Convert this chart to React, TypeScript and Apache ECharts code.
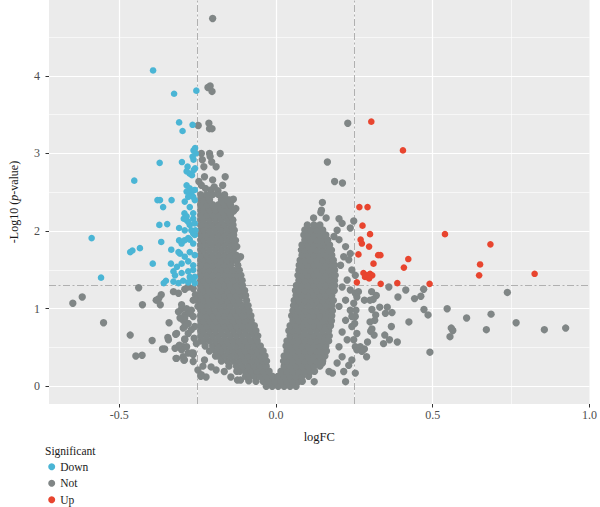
import { useEffect, useRef } from "react";
import * as echarts from "echarts";

// ---------- data (logFC, -log10 p) ----------
const downPoints: number[][] = [
  [-0.392, 4.07], [-0.325, 3.77], [-0.254, 3.81], [-0.309, 3.4], [-0.298, 3.29], [-0.266, 3.37],
  [-0.263, 3.04], [-0.258, 3.07], [-0.256, 3.0], [-0.266, 2.96], [-0.263, 2.92],
  [-0.371, 2.88], [-0.3, 2.89], [-0.282, 2.83],
  [-0.285, 2.77], [-0.275, 2.74], [-0.262, 2.79], [-0.268, 2.72], [-0.258, 2.81],
  [-0.452, 2.65],
  [-0.285, 2.59], [-0.275, 2.55], [-0.285, 2.51], [-0.27, 2.49], [-0.259, 2.53], [-0.28, 2.44],
  [-0.264, 2.44], [-0.259, 2.4], [-0.291, 2.38], [-0.275, 2.31],
  [-0.378, 2.4], [-0.37, 2.4], [-0.333, 2.4], [-0.36, 2.31],
  [-0.292, 2.23], [-0.264, 2.23], [-0.285, 2.19],
  [-0.294, 2.16], [-0.285, 2.14], [-0.264, 2.16], [-0.275, 2.08], [-0.259, 2.1], [-0.291, 2.01],
  [-0.27, 2.01], [-0.259, 1.95], [-0.275, 1.89], [-0.264, 1.84],
  [-0.372, 2.08], [-0.347, 2.09], [-0.309, 2.04], [-0.28, 2.12],
  [-0.588, 1.91], [-0.458, 1.75], [-0.465, 1.73], [-0.434, 1.78], [-0.366, 1.86], [-0.334, 1.76],
  [-0.309, 1.88], [-0.301, 1.84], [-0.292, 1.88], [-0.28, 1.91], [-0.264, 1.97], [-0.257, 2.01],
  [-0.306, 1.71], [-0.291, 1.67], [-0.275, 1.73], [-0.259, 1.69], [-0.311, 1.73],
  [-0.393, 1.58], [-0.335, 1.58], [-0.316, 1.54], [-0.301, 1.58], [-0.28, 1.61], [-0.264, 1.56],
  [-0.327, 1.48], [-0.322, 1.43], [-0.301, 1.46], [-0.28, 1.48], [-0.264, 1.5], [-0.275, 1.41], [-0.259, 1.41],
  [-0.558, 1.4], [-0.351, 1.36], [-0.358, 1.33], [-0.327, 1.35], [-0.311, 1.33], [-0.296, 1.36],
  [-0.28, 1.34], [-0.264, 1.37], [-0.259, 1.33],
];

const upPoints: number[][] = [
  [0.304, 3.41], [0.405, 3.04], [0.266, 2.31], [0.292, 2.31], [0.276, 2.07], [0.3, 1.96],
  [0.539, 1.96], [0.684, 1.83], [0.27, 1.89], [0.274, 1.84], [0.297, 1.8], [0.263, 1.7],
  [0.326, 1.69], [0.333, 1.69], [0.422, 1.64], [0.408, 1.53], [0.311, 1.58], [0.651, 1.57],
  [0.648, 1.43], [0.825, 1.45], [0.279, 1.46], [0.289, 1.43], [0.3, 1.45], [0.307, 1.43],
  [0.284, 1.41], [0.297, 1.39], [0.258, 1.34], [0.334, 1.32], [0.387, 1.33], [0.49, 1.32],
];

// scattered non-significant genes
const notScatter: number[][] = [
  [-0.202, 4.74], [-0.217, 3.85], [-0.21, 3.87], [-0.204, 3.8],
  [-0.248, 3.36], [-0.214, 3.39], [-0.212, 3.32], [-0.204, 3.32],
  [-0.238, 3.0], [-0.212, 3.0], [-0.178, 3.0],
  [-0.235, 2.92], [-0.21, 2.96], [-0.205, 2.89], [-0.191, 2.83], [-0.23, 2.83],
  [-0.228, 2.7], [-0.202, 2.66], [-0.162, 2.7],
  [-0.246, 2.64], [-0.238, 2.59],
  [-0.207, 2.53], [-0.17, 2.59], [-0.197, 2.57], [-0.225, 2.55], [-0.185, 2.52],
  [-0.136, 2.41], [-0.128, 2.29], [-0.151, 2.29],
  [-0.138, 2.14], [-0.133, 2.01], [-0.129, 1.88], [-0.125, 1.8],
  [-0.147, 2.4], [-0.135, 2.26], [-0.113, 1.67],
  [0.229, 3.39], [0.164, 2.89], [0.187, 2.64], [0.212, 2.62], [0.148, 2.37], [0.145, 2.27],
  [0.143, 2.24], [0.248, 2.13], [0.237, 2.04], [0.201, 2.16], [0.211, 2.1], [0.195, 2.01],
  [0.16, 2.17], [0.12, 2.17],
  [0.185, 1.93], [0.201, 1.89], [0.222, 1.8], [0.237, 1.71], [0.216, 1.67], [0.232, 1.63],
  [0.206, 1.56], [0.242, 1.5], [0.253, 1.43], [0.227, 1.37], [0.211, 1.28], [0.237, 1.24],
  [0.253, 1.2], [0.222, 1.11], [0.201, 1.03], [0.237, 0.98], [0.253, 0.9], [0.222, 0.85],
  [0.242, 0.77], [0.211, 0.7], [0.258, 0.68], [0.227, 0.6], [0.201, 0.51], [0.253, 0.51],
  [0.211, 0.38], [0.242, 0.34], [0.195, 0.3], [0.216, 0.19], [0.18, 0.17], [0.248, 0.6],
  [0.258, 0.47], [0.253, 0.17], [0.222, 0.06], [0.148, 0.3], [0.232, 0.27], [0.169, 0.19],
  [0.122, 0.06],
  [0.738, 1.21], [0.546, 1.0], [0.686, 0.93], [0.608, 0.88], [0.766, 0.82], [0.856, 0.73],
  [0.924, 0.75], [0.671, 0.73], [0.559, 0.75], [0.564, 0.72], [0.555, 0.64], [0.491, 0.44],
  [0.472, 0.99], [0.485, 0.92], [0.471, 1.25], [0.462, 1.16], [0.442, 1.13], [0.414, 1.24],
  [0.389, 1.15], [0.424, 0.83], [0.36, 1.28], [0.355, 1.02], [0.37, 0.95], [0.349, 0.94],
  [0.331, 1.02], [0.318, 0.92], [0.32, 1.17], [0.368, 0.77], [0.347, 0.66], [0.362, 0.6],
  [0.343, 0.55], [0.387, 0.57], [0.305, 1.22], [0.31, 1.12], [0.3, 1.11], [0.282, 1.11],
  [0.306, 0.99], [0.315, 0.85], [0.3, 0.83], [0.306, 0.74], [0.302, 0.71], [0.313, 0.66],
  [0.292, 0.57], [0.282, 0.48], [0.289, 0.38], [0.269, 0.51], [0.274, 0.45], [0.263, 1.22],
  [0.258, 1.15], [0.248, 1.07], [0.255, 0.98], [0.242, 0.9], [0.251, 0.81],
  [-0.648, 1.07], [-0.618, 1.15], [-0.55, 0.82], [-0.465, 0.66], [-0.447, 0.39], [-0.427, 0.4],
  [-0.438, 1.27], [-0.426, 1.05], [-0.395, 0.59], [-0.382, 1.11], [-0.374, 1.13], [-0.366, 1.18],
  [-0.369, 1.05], [-0.341, 0.82], [-0.345, 0.63], [-0.343, 0.6], [-0.32, 0.67], [-0.362, 0.48],
  [-0.355, 0.48], [-0.327, 1.22], [-0.311, 1.2], [-0.291, 1.25], [-0.28, 1.28],
  [-0.301, 1.0], [-0.311, 0.96], [-0.291, 0.92], [-0.296, 0.85], [-0.27, 0.98], [-0.264, 1.11],
  [-0.291, 0.61], [-0.311, 0.51], [-0.296, 0.51], [-0.301, 0.47], [-0.322, 0.49],
  [-0.319, 0.36], [-0.296, 0.38], [-0.294, 0.34], [-0.264, 0.41],
  [-0.285, 1.0], [-0.275, 0.94], [-0.291, 0.88], [-0.28, 0.81], [-0.264, 0.9], [-0.259, 0.77],
  [-0.27, 0.73], [-0.296, 0.75], [-0.28, 0.68], [-0.261, 0.62], [-0.254, 0.55], [-0.308, 0.53],
  [-0.28, 0.43], [-0.264, 0.43], [-0.317, 0.36], [-0.292, 0.34], [-0.264, 1.26], [-0.257, 1.18],
  [-0.254, 1.11], [-0.249, 1.03],
  [-0.301, 1.05], [-0.306, 0.88], [-0.291, 0.77], [-0.317, 0.68], [-0.291, 0.6], [-0.285, 0.51],
  [-0.27, 0.43], [-0.264, 0.32], [-0.249, 0.21], [-0.228, 0.34], [-0.223, 0.12], [-0.191, 0.21],
  [-0.165, 0.19], [-0.207, 0.25], [-0.144, 0.12], [-0.123, 0.08], [-0.238, 0.15], [-0.233, 0.26],
  [-0.24, 0.13], [-0.113, 0.08], [-0.087, 0.07],
];

// dense core of the volcano: each row = [-log10 p, logFC, logFC, ...]
const notCoreRows: number[][] = [
  [0.0, -0.031, -0.012, 0.007, 0.026, 0.045, 0.064],
  [0.065, -0.064, -0.041, -0.022, -0.003, 0.016, 0.035, 0.054, 0.073, 0.084],
  [0.13, -0.097, -0.084, -0.069, -0.05, -0.031, -0.012, 0.007, 0.026, 0.045, 0.064, 0.083, 0.104],
  [0.195, -0.125, -0.115, -0.098, -0.079, -0.06, -0.041, -0.022, 0.016, 0.035, 0.054, 0.073, 0.092, 0.111, 0.123],
  [0.26, -0.15, -0.126, -0.107, -0.088, -0.069, -0.05, -0.031, 0.026, 0.045, 0.064, 0.083, 0.102, 0.121, 0.14],
  [0.325, -0.174, -0.155, -0.136, -0.117, -0.098, -0.079, -0.06, -0.041, -0.03, 0.024, 0.035, 0.054, 0.073, 0.092, 0.111, 0.13, 0.149],
  [0.39, -0.193, -0.183, -0.164, -0.145, -0.126, -0.107, -0.088, -0.069, -0.05, -0.035, 0.026, 0.045, 0.064, 0.083, 0.102, 0.121, 0.14, 0.156],
  [0.455, -0.212, -0.193, -0.174, -0.155, -0.136, -0.117, -0.098, -0.079, -0.06, -0.041, 0.035, 0.054, 0.073, 0.092, 0.111, 0.13, 0.149, 0.161],
  [0.52, -0.226, -0.202, -0.183, -0.164, -0.145, -0.126, -0.107, -0.088, -0.069, -0.05, 0.032, 0.045, 0.064, 0.083, 0.102, 0.121, 0.14, 0.159],
  [0.585, -0.24, -0.231, -0.212, -0.193, -0.174, -0.155, -0.136, -0.117, -0.098, -0.079, -0.06, 0.035, 0.054, 0.073, 0.092, 0.111, 0.13, 0.149, 0.168],
  [0.65, -0.24, -0.221, -0.202, -0.183, -0.164, -0.145, -0.126, -0.107, -0.088, -0.069, -0.058, 0.045, 0.064, 0.083, 0.102, 0.121, 0.14, 0.159, 0.17],
  [0.715, -0.24, -0.231, -0.212, -0.193, -0.174, -0.155, -0.136, -0.117, -0.098, -0.079, -0.064, 0.041, 0.054, 0.073, 0.092, 0.111, 0.13, 0.149, 0.168],
  [0.78, -0.24, -0.221, -0.202, -0.183, -0.164, -0.145, -0.126, -0.107, -0.088, -0.069, 0.045, 0.064, 0.083, 0.102, 0.121, 0.14, 0.159, 0.174],
  [0.845, -0.24, -0.231, -0.212, -0.193, -0.174, -0.155, -0.136, -0.117, -0.098, -0.079, 0.054, 0.073, 0.092, 0.111, 0.13, 0.149, 0.168, 0.177],
  [0.91, -0.24, -0.221, -0.202, -0.183, -0.164, -0.145, -0.126, -0.107, -0.088, -0.08, 0.05, 0.064, 0.083, 0.102, 0.121, 0.14, 0.159, 0.178],
  [0.975, -0.24, -0.231, -0.212, -0.193, -0.174, -0.155, -0.136, -0.117, -0.098, -0.086, 0.054, 0.073, 0.092, 0.111, 0.13, 0.149, 0.168, 0.18],
  [1.04, -0.24, -0.221, -0.202, -0.183, -0.164, -0.145, -0.126, -0.107, -0.089, 0.056, 0.064, 0.083, 0.102, 0.121, 0.14, 0.159, 0.178],
  [1.105, -0.24, -0.231, -0.212, -0.193, -0.174, -0.155, -0.136, -0.117, -0.094, 0.058, 0.073, 0.092, 0.111, 0.13, 0.149, 0.168, 0.183],
  [1.17, -0.24, -0.221, -0.202, -0.183, -0.164, -0.145, -0.126, -0.107, -0.097, 0.064, 0.083, 0.102, 0.121, 0.14, 0.159, 0.178],
  [1.235, -0.24, -0.231, -0.212, -0.193, -0.174, -0.155, -0.136, -0.117, -0.1, 0.062, 0.073, 0.092, 0.111, 0.13, 0.149, 0.168, 0.186],
  [1.3, -0.24, -0.221, -0.202, -0.183, -0.164, -0.145, -0.126, -0.107, 0.065, 0.083, 0.102, 0.121, 0.14, 0.159, 0.178, 0.187],
  [1.365, -0.24, -0.231, -0.212, -0.193, -0.174, -0.155, -0.136, -0.117, -0.108, 0.073, 0.092, 0.111, 0.13, 0.149, 0.168, 0.187],
  [1.43, -0.24, -0.221, -0.202, -0.183, -0.164, -0.145, -0.126, -0.112, 0.07, 0.083, 0.102, 0.121, 0.14, 0.159, 0.178, 0.189],
  [1.495, -0.24, -0.231, -0.212, -0.193, -0.174, -0.155, -0.136, -0.117, 0.073, 0.092, 0.111, 0.13, 0.149, 0.168, 0.187],
  [1.56, -0.24, -0.221, -0.202, -0.183, -0.164, -0.145, -0.122, 0.074, 0.083, 0.102, 0.121, 0.14, 0.159, 0.178, 0.187],
  [1.625, -0.24, -0.231, -0.212, -0.193, -0.174, -0.155, -0.136, -0.124, 0.077, 0.092, 0.111, 0.13, 0.149, 0.168, 0.183],
  [1.69, -0.24, -0.221, -0.202, -0.183, -0.164, -0.145, -0.127, 0.083, 0.102, 0.121, 0.14, 0.159, 0.178],
  [1.755, -0.24, -0.231, -0.212, -0.193, -0.174, -0.155, -0.136, 0.081, 0.092, 0.111, 0.13, 0.149, 0.168, 0.177],
  [1.82, -0.24, -0.221, -0.202, -0.183, -0.164, -0.145, -0.131, 0.083, 0.102, 0.121, 0.14, 0.159, 0.171],
  [1.885, -0.24, -0.231, -0.212, -0.193, -0.174, -0.155, -0.136, 0.092, 0.111, 0.13, 0.149, 0.165],
  [1.95, -0.24, -0.221, -0.202, -0.183, -0.164, -0.145, -0.135, 0.089, 0.102, 0.121, 0.14, 0.159],
  [2.015, -0.24, -0.231, -0.212, -0.193, -0.174, -0.155, -0.136, 0.092, 0.111, 0.13, 0.149],
  [2.08, -0.24, -0.221, -0.202, -0.183, -0.164, -0.145, -0.137, 0.1, 0.121, 0.14],
  [2.145, -0.24, -0.231, -0.212, -0.193, -0.174, -0.155, -0.138],
  [2.21, -0.24, -0.221, -0.202, -0.183, -0.164, -0.145],
  [2.275, -0.24, -0.231, -0.212, -0.193, -0.174, -0.155, -0.139],
  [2.34, -0.24, -0.221, -0.202, -0.183, -0.164, -0.145],
  [2.405, -0.24, -0.231, -0.212, -0.174, -0.155],
  [2.47, -0.24, -0.221, -0.202, -0.183, -0.164],
];

const legendNames = ["Down", "Not", "Up"];
const xTicks = [-0.5, 0, 0.5, 1.0];
const yTicks = [0, 1, 2, 3, 4];
const xMinor = [-0.25, 0.25, 0.75];
const yMinor = [0.5, 1.5, 2.5, 3.5, 4.5];
const fcCut = [-0.25, 0.25];
const pCut = 1.301;
const xRange = [-0.724, 1.0];
const yRange = [-0.228, 4.978];

const FONT = '"Liberation Serif", "Times New Roman", serif';
const COLORS = { Down: "#4AB5D5", Not: "#808686", Up: "#E8452F" };

export default function App() {
  const ref = useRef<HTMLDivElement>(null);

  useEffect(() => {
    if (!ref.current) return;
    const chart = echarts.init(ref.current, undefined, { renderer: "svg" });

    const notPoints: number[][] = [...notScatter];
    notCoreRows.forEach((row) => {
      const y = row[0];
      row.slice(1).forEach((x) => notPoints.push([x, y]));
    });

    const minorStyle = { color: "#FFFFFF", width: 0.6, type: "solid" };
    const majorStyle = { color: "#FFFFFF", width: 1.2, type: "solid" };
    const cutStyle = { color: "#B0B0B0", width: 1, type: [7, 2.5, 2, 2.5] };
    const inX = (v: number) => v > xRange[0] && v < xRange[1];
    const inY = (v: number) => v > yRange[0] && v < yRange[1];

    const guides: any[] = [
      ...yMinor.filter(inY).map((v) => ({ yAxis: v, lineStyle: minorStyle })),
      ...xMinor.filter(inX).map((v) => ({ xAxis: v, lineStyle: minorStyle })),
      ...yTicks.filter(inY).map((v) => ({ yAxis: v, lineStyle: majorStyle })),
      ...xTicks.filter(inX).map((v) => ({ xAxis: v, lineStyle: majorStyle })),
      ...fcCut.map((v) => ({ xAxis: v, lineStyle: cutStyle })),
      { yAxis: pCut, lineStyle: cutStyle },
    ];

    const option: any = {
      animation: false,
      textStyle: { fontFamily: FONT },
      grid: {
        left: 45,
        right: 5,
        top: 0,
        bottom: 103,
        show: true,
        backgroundColor: "#EBEBEB",
        borderWidth: 0,
      },
      title: {
        text: "Significant",
        left: 45,
        top: 445,
        padding: 0,
        textStyle: { fontFamily: FONT, fontSize: 11.5, fontWeight: "normal", color: "#1A1A1A" },
      },
      legend: {
        data: legendNames.map((n) => ({ name: n, icon: "circle" })),
        orient: "vertical",
        left: 48.2,
        top: 460,
        padding: 0,
        itemWidth: 7,
        itemHeight: 7,
        itemGap: 3,
        selectedMode: false,
        textStyle: { fontFamily: FONT, fontSize: 11.5, color: "#1A1A1A", lineHeight: 13.5 },
      },
      xAxis: {
        type: "value",
        min: xRange[0],
        max: xRange[1],
        splitLine: { show: false },
        axisLine: { show: false, onZero: false },
        axisTick: { show: true, customValues: xTicks, length: 3.5, lineStyle: { color: "#333333", width: 1 } },
        axisLabel: {
          customValues: xTicks,
          formatter: (v: number) => v.toFixed(1),
          margin: 5,
          color: "#4D4D4D",
          fontSize: 12,
          fontFamily: FONT,
          showMaxLabel: true,
          hideOverlap: false,
        },
        name: "logFC",
        nameLocation: "middle",
        nameGap: 26,
        nameTextStyle: { fontFamily: FONT, fontSize: 12.5, color: "#1A1A1A" },
      },
      yAxis: {
        type: "value",
        min: yRange[0],
        max: yRange[1],
        splitLine: { show: false },
        axisLine: { show: false, onZero: false },
        axisTick: { show: true, customValues: yTicks, length: 3.5, lineStyle: { color: "#333333", width: 1 } },
        axisLabel: {
          customValues: yTicks,
          formatter: (v: number) => String(v),
          margin: 9,
          color: "#4D4D4D",
          fontSize: 12,
          fontFamily: FONT,
        },
        name: "-Log10 ({i|p}-value)",
        nameLocation: "middle",
        nameGap: 29,
        nameTextStyle: {
          fontFamily: FONT,
          fontSize: 12,
          color: "#1A1A1A",
          rich: { i: { fontFamily: FONT, fontSize: 12, fontStyle: "italic", color: "#1A1A1A" } },
        },
      },
      series: [
        {
          name: "guides",
          type: "scatter",
          data: [],
          z: 1,
          silent: true,
          markLine: {
            z: 1,
            silent: true,
            symbol: ["none", "none"],
            label: { show: false },
            emphasis: { disabled: true },
            animation: false,
            data: guides,
          },
        },
        {
          name: "Not",
          type: "scatter",
          data: notPoints,
          symbolSize: 7.4,
          z: 3,
          itemStyle: { color: COLORS.Not, opacity: 1 },
          emphasis: { disabled: true },
        },
        {
          name: "Down",
          type: "scatter",
          data: downPoints,
          symbolSize: 6.6,
          z: 4,
          itemStyle: { color: COLORS.Down, opacity: 1 },
          emphasis: { disabled: true },
        },
        {
          name: "Up",
          type: "scatter",
          data: upPoints,
          symbolSize: 6.6,
          z: 4,
          itemStyle: { color: COLORS.Up, opacity: 1 },
          emphasis: { disabled: true },
        },
      ],
    };

    chart.setOption(option);
    return () => chart.dispose();
  }, []);

  return (
    <div
      ref={ref}
      style={{ position: "absolute", left: 0, top: 0, width: 600, height: 507 }}
    />
  );
}
